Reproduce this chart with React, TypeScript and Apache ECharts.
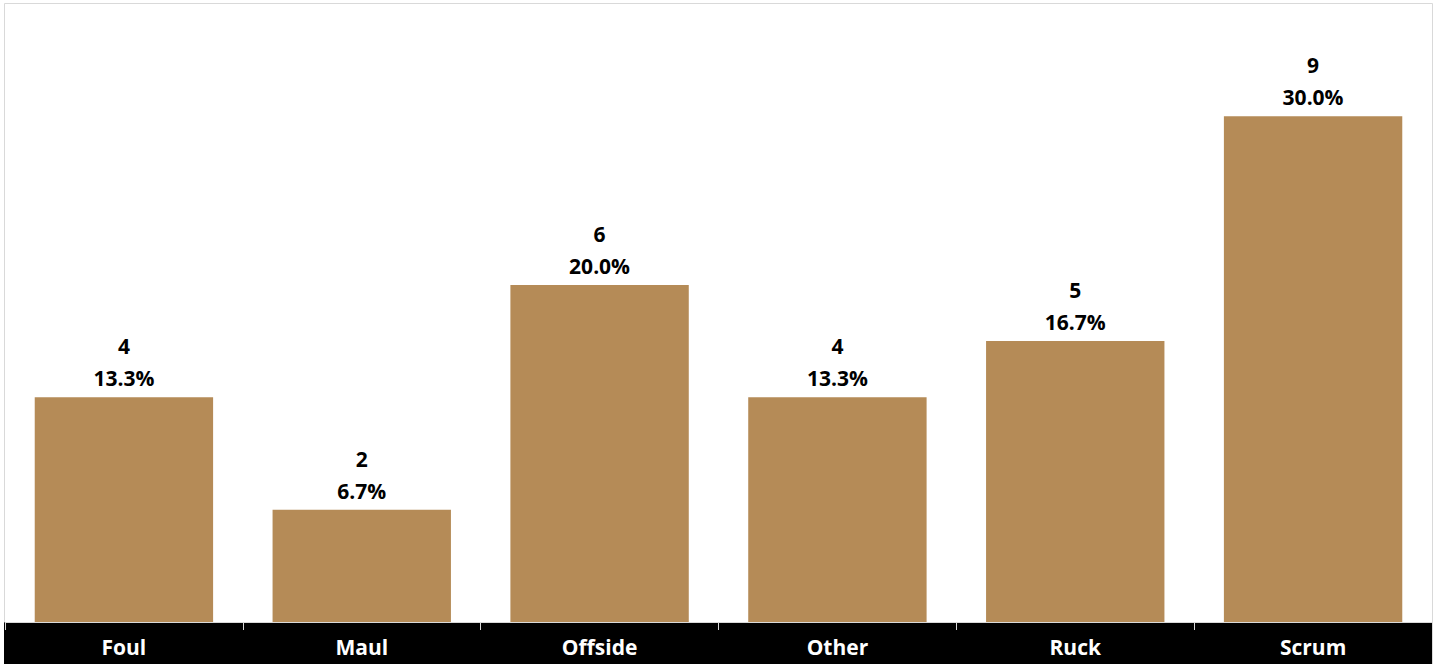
import React, { useEffect, useRef } from "react";
import * as echarts from "echarts";

const categories = ["Foul", "Maul", "Offside", "Other", "Ruck", "Scrum"];
const counts = [4, 2, 6, 4, 5, 9];
const total = counts.reduce((a, b) => a + b, 0);

export default function App() {
  const ref = useRef<HTMLDivElement>(null);
  useEffect(() => {
    document.body.style.margin = "0";
    const chart = echarts.init(ref.current!, null, { renderer: "svg" });
    chart.setOption({
      animation: false,
      backgroundColor: "#ffffff",
      grid: { left: 5, right: 8, top: 4, bottom: 42, containLabel: false },
      graphic: [
        {
          type: "rect",
          z: -10,
          shape: { x: 4.5, y: 3.5, width: 1428, height: 670 },
          style: { fill: "none", stroke: "#d9d9d9", lineWidth: 1 },
        },
        {
          type: "rect",
          z: -5,
          shape: { x: 4, y: 622, width: 1428, height: 42 },
          style: { fill: "#000000" },
        },
      ],
      xAxis: {
        type: "category",
        data: categories,
        axisLine: { show: true, lineStyle: { color: "#d9d9d9", width: 1 } },
        axisTick: { show: true, length: 8, lineStyle: { color: "#d9d9d9" } },
        axisLabel: {
          color: "#ffffff",
          fontFamily: "Open Sans",
          fontWeight: "bold",
          fontSize: 21,
          margin: 14,
        },
        z: 10,
      },
      yAxis: {
        type: "value",
        min: 0,
        max: 11,
        show: false,
        splitLine: { show: false },
      },
      series: [
        {
          type: "bar",
          data: counts,
          barCategoryGap: "25%",
          itemStyle: { color: "#B58B57" },
          label: {
            show: true,
            position: "top",
            distance: 3,
            color: "#000000",
            fontFamily: "Open Sans",
            fontWeight: "bold",
            fontSize: 21,
            lineHeight: 32,
            formatter: (p: any) =>
              `${p.value}\n${((p.value / total) * 100).toFixed(1)}%`,
          },
        },
      ],
    });
    return () => chart.dispose();
  }, []);
  return <div ref={ref} style={{ width: 1440, height: 664 }} />;
}
